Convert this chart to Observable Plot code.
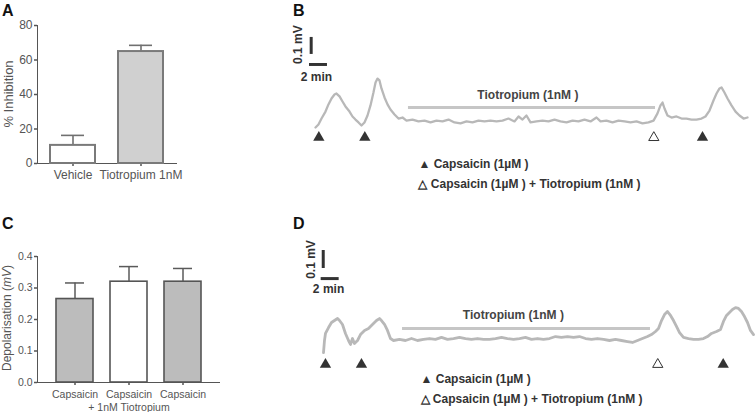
<!DOCTYPE html>
<html><head><meta charset="utf-8">
<script src="https://cdn.jsdelivr.net/npm/d3@7"></script>
<script src="https://cdn.jsdelivr.net/npm/@observablehq/plot@0.6"></script>
<style>
body{margin:0;background:#fff;}
#fig{position:relative;width:756px;height:412px;overflow:hidden;font-family:"Liberation Sans",Arial,sans-serif;background:#fff;}
.panel{position:absolute;}
.letter{position:absolute;font-weight:bold;font-size:16px;line-height:1;color:#111;}
.ylab{position:absolute;white-space:nowrap;transform:translate(-50%,-50%) rotate(-90deg);color:#555;line-height:1;}
#pA [aria-label$="axis line"] *, #pC [aria-label$="axis line"] *,
#pA [aria-label$="axis tick"] *, #pC [aria-label$="axis tick"] * {stroke-width:1.5px;}
</style></head>
<body><div id="fig">
<div class="letter" style="left:2px;top:3px">A</div>
<div class="letter" style="left:293px;top:3px">B</div>
<div class="letter" style="left:2px;top:216px">C</div>
<div class="letter" style="left:293px;top:216px">D</div>
<div id="pA" class="panel" style="left:0;top:0"></div>
<div id="pB" class="panel" style="left:290px;top:0"></div>
<div id="pC" class="panel" style="left:0;top:205px"></div>
<div id="pD" class="panel" style="left:290px;top:200px"></div>
<div class="ylab" style="left:8px;top:94px;font-size:13px">% Inhibition</div>
<div class="ylab" style="left:7px;top:318px;font-size:12px">Depolarisation (<i>mV</i>)</div>
</div>
<script>
// ---- Panel A data ----
const aCategories = ["Vehicle", "Tiotropium 1nM"];
const aMeans = [10.5, 64.9];
const aSem = [5.8, 3.6];
const aTicks = [0, 20, 40, 60, 80];

// ---- Panel C data ----
const cCategories = ["caps1", "capsTio", "caps2"];
const cLabels = ["Capsaicin", "Capsaicin\n+ 1nM Tiotropium", "Capsaicin"];
const cMeans = [0.265, 0.32, 0.32];
const cSem = [0.051, 0.048, 0.042];
const cTicks = [0, 0.1, 0.2, 0.3, 0.4];

// ---- Panel B trace (time in min, depolarisation in mV) ----
const traceBTime = [0,0.33,0.67,1.11,1.44,1.78,2.11,2.33,2.67,3.0,3.33,3.78,4.11,4.44,4.78,5.11,5.44,5.78,6.11,6.44,6.67,6.89,7.11,7.33,7.67,8.0,8.33,8.78,9.22,9.67,10.11,
10.78,11.44,12.11,12.78,13.44,14.11,14.78,15.44,16.11,16.78,17.44,18.11,18.78,19.44,20.11,20.78,21.44,22.11,22.56,23.0,23.44,23.89,24.56,25.22,25.89,26.56,27.22,27.89,28.56,29.22,29.89,30.56,31.22,31.67,32.33,33.0,33.67,34.33,35.0,35.67,36.33,37.0,
37.56,38.0,38.33,38.56,38.78,39.11,39.56,40.11,40.67,41.22,41.78,42.33,42.89,43.33,43.78,44.22,44.56,44.89,45.11,45.44,45.78,46.22,46.67,47.11,47.56,48.0];
const traceBVolt = [-0.012,0.006,0.041,0.082,0.124,0.159,0.182,0.188,0.171,0.141,0.112,0.082,0.053,0.035,0.018,0.0,0.018,0.059,0.118,0.194,0.253,0.276,0.265,0.218,0.165,0.124,0.094,0.065,0.041,0.047,0.029,
0.035,0.024,0.029,0.018,0.029,0.024,0.035,0.018,0.012,0.024,0.018,0.029,0.024,0.029,0.024,0.029,0.041,0.024,0.053,0.035,0.059,0.018,0.024,0.029,0.024,0.035,0.024,0.018,0.029,0.024,0.035,0.024,0.047,0.024,0.029,0.018,0.029,0.024,0.018,0.024,0.012,0.018,
0.029,0.071,0.118,0.135,0.100,0.059,0.047,0.053,0.041,0.041,0.035,0.035,0.041,0.053,0.088,0.147,0.188,0.218,0.224,0.194,0.159,0.118,0.082,0.059,0.041,0.047];
const capsaicinB = [0.37, 5.48, 43.0];
const capsaicinTioB = [37.59];
const tiotropiumB = [10.33, 37.78];

// ---- Panel D trace ----
const traceDTime = [0,0.11,0.22,0.56,0.89,1.22,1.56,1.78,2.11,2.44,2.78,3.0,3.22,3.44,3.78,4.11,4.56,5.0,5.44,5.89,6.22,6.44,6.78,7.11,7.44,7.78,
8.44,9.11,9.78,10.44,11.11,11.78,12.44,13.11,13.78,14.44,15.11,15.78,16.44,17.11,17.78,18.44,19.11,19.78,20.44,21.11,21.78,22.44,23.11,23.78,24.44,25.11,25.78,26.44,27.11,27.78,28.44,29.11,29.78,30.44,31.11,31.78,32.44,33.11,33.78,34.33,34.89,35.44,36.0,36.44,
36.89,37.22,37.56,37.89,38.22,38.56,38.89,39.22,39.56,40.0,40.56,41.11,41.67,42.22,42.67,43.11,43.67,44.11,44.44,44.78,45.11,45.44,45.78,46.11,46.44,46.78,47.11,47.44,47.78];
const traceDVolt = [-0.067,0.0,0.039,0.072,0.1,0.111,0.122,0.111,0.089,0.039,0.0,-0.022,0.011,-0.017,0.0,0.033,0.056,0.067,0.089,0.111,0.122,0.111,0.089,0.056,0.011,0.0,
0.006,0.0,0.011,0.0,0.006,0.011,0.006,0.017,0.006,0.011,0.017,0.011,0.006,0.011,0.006,0.006,0.011,0.017,0.011,0.006,0.011,0.017,0.006,0.011,0.006,0.011,0.022,0.017,0.022,0.017,0.022,0.011,0.006,0.011,0.006,0.0,0.006,0.0,-0.006,-0.011,0.0,0.011,0.022,0.033,
0.05,0.067,0.111,0.144,0.161,0.139,0.111,0.078,0.044,0.017,0.011,0.006,0.006,0.011,0.022,0.039,0.05,0.061,0.106,0.139,0.156,0.172,0.183,0.178,0.161,0.133,0.1,0.056,0.033];
const capsaicinD = [0.22, 4.22, 44.41];
const capsaicinTioD = [37.14];
const tiotropiumD = [8.78, 36.33];

// scale bar sizes
const scaleBarTime = 2;   // min
const scaleBarVolt = 0.1; // mV

const FONT = "'Liberation Sans', Arial, sans-serif";
const AX = "#555";

// ---------- Panel A ----------
const aData = aCategories.map((c, i) => ({cat: c, mean: aMeans[i], top: aMeans[i] + aSem[i]}));
document.getElementById("pA").append(Plot.plot({
  width: 200, height: 190, marginLeft: 37, marginRight: 24, marginTop: 25, marginBottom: 27,
  style: {fontFamily: FONT, fontSize: "12px", color: AX, background: "transparent", overflow: "visible"},
  x: {domain: aCategories, paddingInner: 0.333, paddingOuter: 0.174, tickSize: 3, tickPadding: 4, line: true, label: null},
  y: {domain: [0, 80], ticks: aTicks, tickSize: 3, tickPadding: 2, line: true, label: null},
  color: {domain: aCategories, range: ["#ffffff", "#d0d0d0"]},
  marks: [
    Plot.ruleX(aData, {x: "cat", y1: "mean", y2: "top", stroke: "#707070", strokeWidth: 1.6}),
    Plot.tickY(aData, {x: "cat", y: "top", stroke: "#707070", strokeWidth: 1.6, insetLeft: 11, insetRight: 11}),
    Plot.barY(aData, {x: "cat", y: "mean", fill: "cat", stroke: "#7a7a7a", strokeWidth: 2})
  ]
}));

// ---------- Panel C ----------
const cData = cCategories.map((c, i) => ({cat: c, label: cLabels[i], mean: cMeans[i], top: cMeans[i] + cSem[i]}));
document.getElementById("pC").append(Plot.plot({
  width: 230, height: 207, marginLeft: 37, marginRight: 11, marginTop: 51, marginBottom: 30,
  style: {fontFamily: FONT, fontSize: "10.5px", color: AX, background: "transparent", overflow: "visible"},
  x: {domain: cCategories, paddingInner: 0.32, paddingOuter: 0.33, tickSize: 3, tickFormat: () => "", line: true, label: null},
  y: {domain: [0, 0.4], ticks: cTicks, tickFormat: d3.format(".1f"), tickSize: 3, tickPadding: 2, line: true, label: null},
  color: {domain: cCategories, range: ["#bcbcbc", "#ffffff", "#bcbcbc"]},
  marks: [
    Plot.ruleX(cData, {x: "cat", y1: "mean", y2: "top", stroke: "#5a5a5a", strokeWidth: 1.5}),
    Plot.tickY(cData, {x: "cat", y: "top", stroke: "#5a5a5a", strokeWidth: 1.5, insetLeft: 9, insetRight: 9}),
    Plot.barY(cData, {x: "cat", y: "mean", fill: "cat", stroke: "#555", strokeWidth: 1.6}),
    Plot.text(cData, {x: "cat", text: "label", frameAnchor: "bottom", lineAnchor: "top", dy: 6, lineHeight: 1.25, fontSize: 10.5, fill: AX, fontFamily: FONT})
  ]
}));

// ---------- Trace panels ----------
function tracePanel({el, width, height, xDomain, yDomain, time, volt, caps, capsTio, tio, tioLevel, tioLabel,
                     markerLevel, bar, legend, strokeWidth}) {
  const trace = time.map((t, i) => ({t, v: volt[i]}));
  const txt = {fontFamily: FONT, fontWeight: "bold", fontSize: 12, fill: "#333"};
  document.getElementById(el).append(Plot.plot({
    width, height, margin: 0,
    style: {fontFamily: FONT, background: "transparent", overflow: "visible"},
    x: {domain: xDomain, axis: null},
    y: {domain: yDomain, axis: null},
    marks: [
      Plot.line(trace, {x: "t", y: "v", stroke: "#b8b8b8", strokeWidth, strokeLinejoin: "round"}),
      Plot.ruleY([{t1: tio[0], t2: tio[1], v: tioLevel}], {x1: "t1", x2: "t2", y: "v", stroke: "#c6c6c6", strokeWidth: 3}),
      Plot.text([{t: tioLabel[0], v: tioLabel[1]}], {x: "t", y: "v", text: () => "Tiotropium (1nM )", ...txt, fill: "#444"}),
      Plot.dot(caps.map(t => ({t, v: markerLevel})), {x: "t", y: "v", symbol: "triangle", r: 4.2, fill: "#333", stroke: "none"}),
      Plot.dot(capsTio.map(t => ({t, v: markerLevel})), {x: "t", y: "v", symbol: "triangle", r: 3.8, fill: "#fff", stroke: "#333", strokeWidth: 1}),
      // scale bars
      Plot.ruleX([{t: bar.vt, v1: bar.vv, v2: bar.vv + scaleBarVolt}], {x: "t", y1: "v1", y2: "v2", stroke: "#333", strokeWidth: 3}),
      Plot.ruleY([{t1: bar.ht, t2: bar.ht + scaleBarTime, v: bar.hv}], {x1: "t1", x2: "t2", y: "v", stroke: "#333", strokeWidth: 3}),
      Plot.text([{t: bar.lt, v: bar.lv}], {x: "t", y: "v", text: () => scaleBarVolt + " mV", rotate: -90, ...txt}),
      Plot.text([{t: bar.mt, v: bar.mv}], {x: "t", y: "v", text: () => scaleBarTime + " min", ...txt}),
      // legend
      Plot.text([{t: legend.t, v: legend.v1}], {x: "t", y: "v", text: () => "▲ Capsaicin (1µM )", textAnchor: "start", ...txt}),
      Plot.text([{t: legend.t, v: legend.v2}], {x: "t", y: "v", text: () => "△ Capsaicin (1µM ) + Tiotropium (1nM )", textAnchor: "start", ...txt})
    ]
  }));
}

tracePanel({
  el: "pB", width: 466, height: 200,
  xDomain: [-25 / 9, 441 / 9], yDomain: [-75 / 170, 125 / 170],
  time: traceBTime, volt: traceBVolt, caps: capsaicinB, capsTio: capsaicinTioB, tio: tiotropiumB,
  tioLevel: 0.106, tioLabel: [23.6, 0.176], markerLevel: -0.071,
  bar: {vt: -0.48, vv: 0.418, ht: -0.67, hv: 0.359, lt: -1.89, lv: 0.476, mt: 0.11, mv: 0.282},
  legend: {t: 11.44, v1: -0.229, v2: -0.347}, strokeWidth: 2.3
});

tracePanel({
  el: "pD", width: 466, height: 212,
  xDomain: [-33 / 9, 433 / 9], yDomain: [-72 / 180, 140 / 180],
  time: traceDTime, volt: traceDVolt, caps: capsaicinD, capsTio: capsaicinTioD, tio: tiotropiumD,
  tioLevel: 0.067, tioLabel: [21.1, 0.139], markerLevel: -0.133,
  bar: {vt: -0.03, vv: 0.4, ht: -0.26, hv: 0.344, lt: -1.37, lv: 0.45, mt: 0.56, mv: 0.283},
  legend: {t: 10.78, v1: -0.217, v2: -0.328}, strokeWidth: 2.8
});
</script>
</body></html>
